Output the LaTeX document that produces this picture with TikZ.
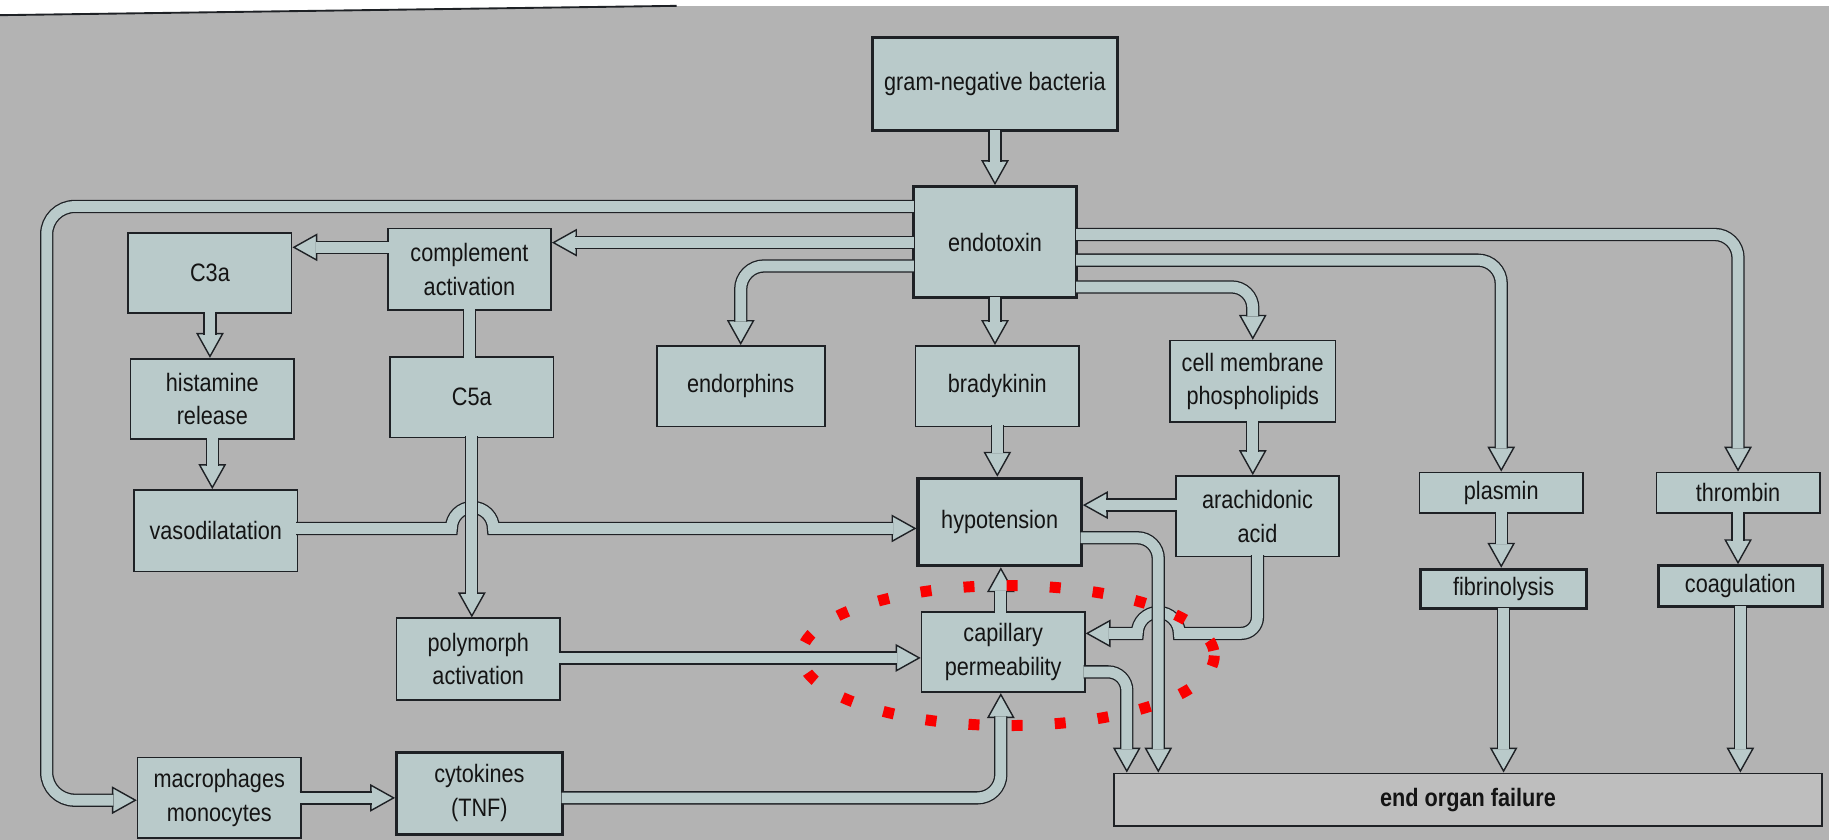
\documentclass[tikz,border=0pt]{standalone}
\usepackage{fontspec}
\setmainfont{Liberation Sans}[FakeStretch=0.86]
\usetikzlibrary{arrows.meta}

\definecolor{bgcol}{RGB}{179,179,179}
\definecolor{boxfill}{RGB}{185,202,202}
\definecolor{eofill}{RGB}{190,190,190}
\definecolor{linecol}{RGB}{30,33,37}
\definecolor{textcol}{RGB}{20,20,20}
\definecolor{dotred}{RGB}{250,0,0}

\newcommand{\lbl}{\fontsize{10.8}{14.5}\selectfont}

\tikzset{
  box/.style={draw=linecol, line width=0.7pt, fill=boxfill, text=textcol, inner sep=0pt,
    align=center, font=\lbl, minimum width=70pt, minimum height=34.5pt},
  thickbox/.style={box, line width=1.3pt},
  pipe/.style={draw=linecol, line width=0.55pt, double=boxfill, double distance=4.6pt,
    shorten <=-0.9pt},
  pipeend/.style={pipe, shorten >=10pt},
  pipehead/.style={draw=boxfill, line width=0.3pt,
    -{Triangle[width=11.8pt, length=10.7pt, color=linecol, fill=boxfill, line width=0.6pt]}},
  redring/.style={draw=dotred, line width=4.7pt, dash pattern=on 4.7pt off 13.8pt}
}

% broad hollow arrow: head first, then the shaft over it
\newcommand{\flow}[1]{\draw[pipehead] #1; \draw[pipeend] #1;}

\begin{document}
\begin{tikzpicture}[x=0.5pt, y=-0.5pt]
    \fill[bgcol] (0,0) rectangle (1568,720);
    \useasboundingbox (0,0) rectangle (1568,720);
    \fill[white] (0,0) -- (1568,0) -- (1568,5) -- (580,5) -- (0,13) -- cycle;
    \draw[linecol, line width=0.8pt] (0,13) -- (580,5);

    %boxes
    \node[thickbox, minimum width=105pt, minimum height=40pt] (gram) at (853,72) {gram-negative bacteria};
    \node[thickbox, minimum height=47.5pt] (endo) at (853,207.5) {endotoxin};
    \node[box] (c3a) at (180,234) {C3a};
    \node[box, minimum height=35pt] (cpl) at (402.5,231) {complement\\activation};
    \node[box] (hist) at (182,342) {histamine\\release};
    \node[box] (c5a) at (404.5,340.5) {C5a};
    \node[box, minimum height=35pt] (vaso) at (185,455) {vasodilatation};
    \node[box, minimum width=72pt] (endor) at (635,331) {endorphins};
    \node[box] (brady) at (855,331) {bradykinin};
    \node[box, minimum width=71pt, minimum height=35pt] (cellm) at (1074,327) {cell membrane\\phospholipids};
    \node[thickbox, minimum height=37.5pt] (hypo) at (857,447.5) {hypotension};
    \node[box] (arach) at (1078,442.5) {arachidonic\\acid};
    \node[box, minimum height=17.5pt] (plasm) at (1287,422.5) {plasmin};
    \node[box, minimum height=17.5pt] (thromb) at (1490,422.5) {thrombin};
    \node[thickbox, minimum width=71pt, minimum height=17pt] (fibrin) at (1289,505) {fibrinolysis};
    \node[thickbox, minimum height=17.5pt] (coag) at (1492,502.5) {coagulation};
    \node[box, minimum height=35pt] (poly) at (410,565) {polymorph\\activation};
    \node[box] (capil) at (860,559) {capillary\\permeability};
    \node[box] (macro) at (188,684) {macrophages\\monocytes};
    \node[thickbox, minimum width=71pt, minimum height=35pt] (cyto) at (411,680) {cytokines\\(TNF)};
    \node[box, fill=eofill, minimum width=303.5pt, minimum height=22.5pt, font=\lbl\bfseries] (eof) at (1258.5,685.5) {end organ failure};

    %arrows
    \flow{(gram.south) -- (endo.north)}
    \flow{(endo.west |- 0,177) [rounded corners=12pt] -- (40,177) -- (40,686) -- (macro.west |- 0,686)}
    \flow{(endo.west |- 0,208) -- (cpl.east |- 0,208)}
    \flow{(cpl.west |- 0,212) -- (c3a.east |- 0,212)}
    \draw[pipe, shorten >=-0.9pt] (cpl.south) -- (cpl.south |- c5a.north);
    \flow{(c3a.south) -- (c3a.south |- hist.north)}
    \flow{(hist.south) -- (hist.south |- vaso.north)}
    \flow{(endo.west |- 0,228) [rounded corners=10pt] -- (635,228) -- (endor.north)}
    \flow{(endo.south) -- (endo.south |- brady.north)}
    \flow{(brady.south) -- (brady.south |- hypo.north)}
    \flow{(endo.east |- 0,201) [rounded corners=10pt] -- (1490,201) -- (thromb.north)}
    \flow{(endo.east |- 0,223) [rounded corners=10pt] -- (1287,223) -- (plasm.north)}
    \flow{(endo.east |- 0,246) [rounded corners=9pt] -- (1074,246) -- (cellm.north)}
    \flow{(cellm.south) -- (cellm.south |- arach.north)}
    \flow{(arach.west |- 0,433) -- (hypo.east |- 0,433)}
    \flow{(plasm.south) -- (plasm.south |- fibrin.north)}
    \flow{(thromb.south) -- (thromb.south |- coag.north)}
    \flow{(fibrin.south) -- (fibrin.south |- eof.north)}
    \flow{(coag.south) -- (coag.south |- eof.north)}
    % bridges go under the crossing lines
    \flow{(vaso.east |- 0,453) -- (387,453) arc[start angle=180, end angle=360, radius=18] -- (hypo.west |- 0,453)}
    \flow{(c5a.south) -- (c5a.south |- poly.north)}
    \flow{(arach.south) [rounded corners=7pt] -- (1078,543) [sharp corners] -- (1011,543) arc[start angle=0, end angle=-180, radius=18] -- (capil.east |- 0,543)}
    \flow{(hypo.east |- 0,461) [rounded corners=9pt] -- (993,461) -- (993,461 |- eof.north)}
    \flow{(capil.east |- 0,576) [rounded corners=8pt] -- (966,576) -- (966,576 |- eof.north)}
    \flow{(858,0 |- capil.north) -- (858,0 |- hypo.south)}
    \flow{(poly.east |- 0,564) -- (capil.west |- 0,564)}
    \flow{(macro.east |- 0,684) -- (cyto.west |- 0,684)}
    \flow{(cyto.east |- 0,684) [rounded corners=10pt] -- (858,684) -- (858,684 |- capil.south)}

    %highlight
    \draw[redring] (864,562) ellipse [x radius=177, y radius=60];
\end{tikzpicture}
\end{document}
